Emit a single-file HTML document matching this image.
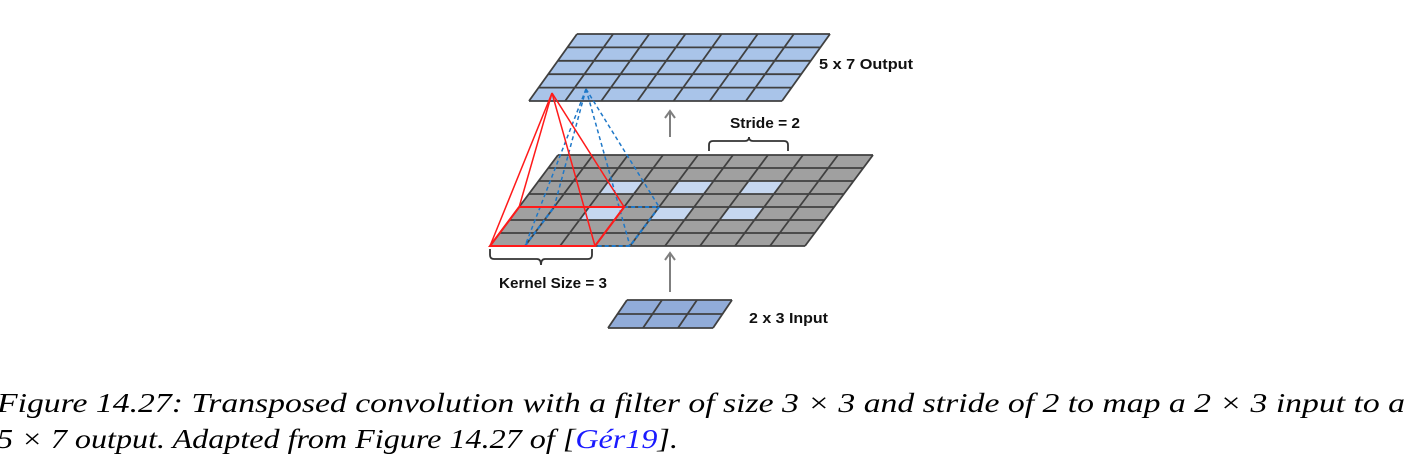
<!DOCTYPE html>
<html><head><meta charset="utf-8"><style>
html,body{margin:0;padding:0;background:#fff;width:1407px;height:468px;overflow:hidden}
svg{display:block}
.lbl{font-family:"Liberation Sans",sans-serif;font-weight:bold;font-size:15px;fill:#111}
.cap{font-family:"Liberation Serif",serif;font-style:italic;font-size:27px;fill:#000}
</style></head><body>
<svg id="fig" width="1407" height="468" viewBox="0 0 1407 468" xmlns="http://www.w3.org/2000/svg">
<g id="grids"></g>
<g id="pyramids"></g>
<g stroke="#7f7f7f" stroke-width="2" fill="none">
  <path d="M670 137 V111 M665 118 L670 111 L675 118"/>
  <path d="M670 292 V253 M665 260 L670 253 L675 260"/>
</g>
<g stroke="#333" stroke-width="1.8" fill="none">
  <path d="M709 151 V145 Q709 141 713 141 H745 Q749 141 749 137 Q749 141 753 141 H784 Q788 141 788 145 V151"/>
  <path d="M490 249 V255 Q490 259 494 259 H537 Q541 259 541 265 Q541 259 545 259 H588 Q592 259 592 255 V249"/>
</g>
<text class="lbl" x="819" y="69" textLength="94" lengthAdjust="spacingAndGlyphs">5 x 7 Output</text>
<text class="lbl" x="730" y="128" textLength="70" lengthAdjust="spacingAndGlyphs">Stride = 2</text>
<text class="lbl" x="499" y="288" textLength="108" lengthAdjust="spacingAndGlyphs">Kernel Size = 3</text>
<text class="lbl" x="749" y="323" textLength="79" lengthAdjust="spacingAndGlyphs">2 x 3 Input</text>
<text class="cap" x="-3" y="412" textLength="1408" lengthAdjust="spacingAndGlyphs">Figure 14.27: Transposed convolution with a filter of size 3 × 3 and stride of 2 to map a 2 × 3 input to a</text>
<text class="cap" x="-3" y="448" textLength="681" lengthAdjust="spacingAndGlyphs">5 × 7 output. Adapted from Figure 14.27 of [<tspan fill="#1a1aff">Gér19</tspan>].</text>
</svg>
<script>
const NS="http://www.w3.org/2000/svg";
const gridsG=document.getElementById('grids');
const pyrG=document.getElementById('pyramids');
function mk(tag,attrs,parent){const e=document.createElementNS(NS,tag);for(const k in attrs)e.setAttribute(k,attrs[k]);parent.appendChild(e);return e;}
function pt(g,c,r){const t=r/g.rows;const y=g.ty+(g.by-g.ty)*t;const xl=g.tl+(g.bl-g.tl)*t;const w=(g.tr-g.tl);return [xl+w*c/g.cols,y];}
function grid(g,name){
  const grp=mk('g',{},gridsG);
  
  
  const p=[pt(g,0,0),pt(g,g.cols,0),pt(g,g.cols,g.rows),pt(g,0,g.rows)];
  mk('polygon',{points:p.map(a=>a.join(',')).join(' '),fill:g.fill},grp);
  (g.light||[]).forEach(([r,c])=>{const q=[pt(g,c,r),pt(g,c+1,r),pt(g,c+1,r+1),pt(g,c,r+1)];
    const cell=mk('polygon',{points:q.map(a=>a.join(',')).join(' '),fill:'#c6d7f0'},grp);
    
    });
  for(let r=0;r<=g.rows;r++){const a=pt(g,0,r),b=pt(g,g.cols,r);mk('line',{x1:a[0],y1:a[1],x2:b[0],y2:b[1],stroke:'#404040','stroke-width':1.8},grp);}
  for(let c=0;c<=g.cols;c++){const a=pt(g,c,0),b=pt(g,c,g.rows);mk('line',{x1:a[0],y1:a[1],x2:b[0],y2:b[1],stroke:'#404040','stroke-width':1.8},grp);}
}
const outG={tl:577,tr:830,ty:34,bl:529,by:101,rows:5,cols:7,fill:'#a9c4e9'};
const midG={tl:558,tr:873,ty:155,bl:490,by:246,rows:7,cols:9,fill:'#a0a0a0',light:[[2,2],[2,4],[2,6],[4,2],[4,4],[4,6]]};
const inG={tl:627,tr:732,ty:300,bl:608,by:328,rows:2,cols:3,fill:'#91acd9'};
grid(outG,'output-grid');
grid(midG,'padded-input-grid');
grid(inG,'input-grid');
function pyramid(apex,c0,color,dash,name){
  const grp=mk('g',{fill:'none',stroke:color,'stroke-width':1.5},pyrG);
  
  
  if(dash)grp.setAttribute('stroke-dasharray','4 3');
  const q=[pt(midG,c0,4),pt(midG,c0+3,4),pt(midG,c0+3,7),pt(midG,c0,7)];
  mk('polygon',{points:q.map(a=>a.join(',')).join(' '),'stroke-width':2},grp);
  q.forEach(a=>mk('line',{x1:apex[0],y1:apex[1],x2:a[0],y2:a[1]},grp));
}
pyramid([586,89],1,'#1f78c8',true,'blue-kernel-pyramid');
pyramid([552,93],0,'#ff1a1a',false,'red-kernel-pyramid');
</script>
</body></html>
